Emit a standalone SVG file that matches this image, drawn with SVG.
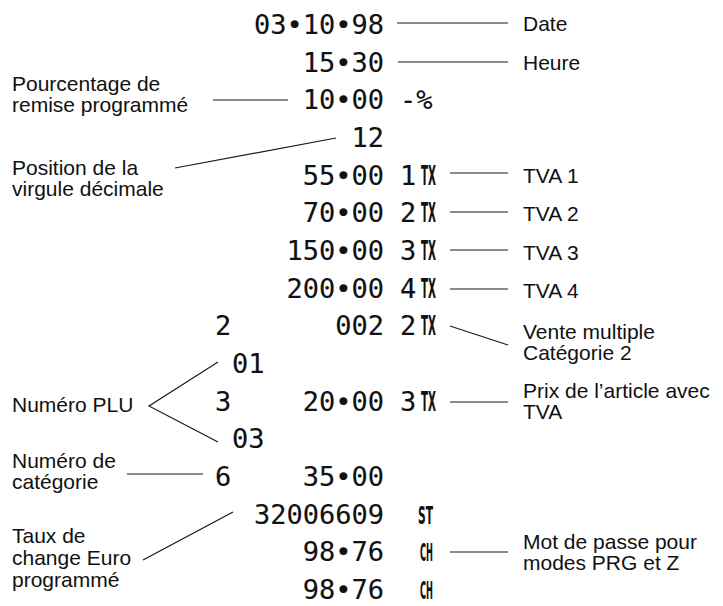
<svg xmlns="http://www.w3.org/2000/svg" width="723" height="606" viewBox="0 0 723 606">
<style>
.r{font-family:"DejaVu Sans Mono","Liberation Mono",monospace;font-size:27px;fill:#111;stroke:#111;stroke-width:0.15}
.e{text-anchor:end}
.tx{font-family:"DejaVu Sans Condensed","DejaVu Sans",sans-serif;font-weight:bold;font-size:27px;fill:#111}
.sm{font-family:"DejaVu Sans Condensed","DejaVu Sans",sans-serif;font-weight:bold;font-size:24px;fill:#111}
.l{font-family:"Liberation Sans",Arial,sans-serif;font-size:21px;fill:#111}
.c line,.c polyline{stroke:#1a1a1a;stroke-width:1.2;fill:none}
</style>
<rect width="723" height="606" fill="#fff"/>
<g id="row-date"><text class="r e" x="384" y="34">03•10•98</text></g>
<g id="row-heure"><text class="r e" x="384" y="71.7">15•30</text></g>
<g id="row-remise"><text class="r e" x="384" y="109.3">10•00</text><text class="r" x="400" y="109.3">-%</text></g>
<g id="row-virgule"><text class="r e" x="384" y="147">12</text></g>
<g id="row-tva1"><text class="r" x="400" y="184.7">1</text><text class="r e" x="384" y="184.7">55•00</text><text class="tx" x="421" y="184.7" textLength="15" lengthAdjust="spacingAndGlyphs">TX</text></g>
<g id="row-tva2"><text class="r e" x="384" y="222.3">70•00</text><text class="r" x="400" y="222.3">2</text><text class="tx" x="421" y="222.3" textLength="15" lengthAdjust="spacingAndGlyphs">TX</text></g>
<g id="row-tva3"><text class="r e" x="384" y="260">150•00</text><text class="r" x="400" y="260">3</text><text class="tx" x="421" y="260" textLength="15" lengthAdjust="spacingAndGlyphs">TX</text></g>
<g id="row-tva4"><text class="r e" x="384" y="297.7">200•00</text><text class="r" x="400" y="297.7">4</text><text class="tx" x="421" y="297.7" textLength="15" lengthAdjust="spacingAndGlyphs">TX</text></g>
<g id="row-multiple"><text class="r" x="215" y="335.3">2</text><text class="r e" x="384" y="335.3">002</text><text class="r" x="400" y="335.3">2</text><text class="tx" x="421" y="335.3" textLength="15" lengthAdjust="spacingAndGlyphs">TX</text></g>
<g id="row-plu1"><text class="r" x="232" y="373">01</text></g>
<g id="row-prix"><text class="r" x="215" y="410.7">3</text><text class="r e" x="384" y="410.7">20•00</text><text class="r" x="400" y="410.7">3</text><text class="tx" x="421" y="410.7" textLength="15" lengthAdjust="spacingAndGlyphs">TX</text></g>
<g id="row-plu3"><text class="r" x="232" y="448.3">03</text></g>
<g id="row-categorie"><text class="r" x="215" y="486">6</text><text class="r e" x="384" y="486">35•00</text></g>
<g id="row-taux"><text class="r e" x="384" y="523.7">32006609</text><text class="sm" x="418" y="523.7" textLength="15" lengthAdjust="spacingAndGlyphs">ST</text></g>
<g id="row-pass1"><text class="r e" x="384" y="561.3">98•76</text><text class="sm" x="420" y="561.3" textLength="13" lengthAdjust="spacingAndGlyphs">CH</text></g>
<g id="row-pass2"><text class="r e" x="384" y="599">98•76</text><text class="sm" x="420" y="599" textLength="13" lengthAdjust="spacingAndGlyphs">CH</text></g>

<g id="label-date"><text class="l" x="523" y="31">Date</text></g>
<g id="label-heure"><text class="l" x="523" y="70">Heure</text></g>
<g id="label-tva1"><text class="l" x="523" y="183">TVA 1</text></g>
<g id="label-tva2"><text class="l" x="523" y="221">TVA 2</text></g>
<g id="label-tva3"><text class="l" x="523" y="260">TVA 3</text></g>
<g id="label-tva4"><text class="l" x="523" y="298">TVA 4</text></g>
<g id="label-vente"><text class="l" x="523" y="339">Vente multiple</text><text class="l" x="523" y="360">Catégorie 2</text></g>
<g id="label-prix"><text class="l" x="523" y="398">Prix de l’article avec</text><text class="l" x="523" y="419">TVA</text></g>
<g id="label-motdepasse"><text class="l" x="523" y="549">Mot de passe pour</text><text class="l" x="523" y="570">modes PRG et Z</text></g>
<g id="label-remise"><text class="l" x="12" y="91">Pourcentage de</text><text class="l" x="12" y="112">remise programmé</text></g>
<g id="label-virgule"><text class="l" x="12" y="175">Position de la</text><text class="l" x="12" y="196">virgule décimale</text></g>
<g id="label-plu"><text class="l" x="12" y="412">Numéro PLU</text></g>
<g id="label-categorie"><text class="l" x="12" y="468">Numéro de</text><text class="l" x="12" y="489">catégorie</text></g>
<g id="label-taux"><text class="l" x="12" y="543">Taux de</text><text class="l" x="12" y="565">change Euro</text><text class="l" x="12" y="587">programmé</text></g>

<g id="connectors" class="c">
<line x1="397" y1="23" x2="508" y2="23"/>
<line x1="398" y1="62" x2="508" y2="62"/>
<line x1="213" y1="100" x2="288" y2="100"/>
<line x1="175" y1="168" x2="336" y2="138"/>
<line x1="450" y1="173" x2="508" y2="173"/>
<line x1="450" y1="212" x2="508" y2="212"/>
<line x1="450" y1="250" x2="508" y2="250"/>
<line x1="450" y1="289" x2="508" y2="289"/>
<line x1="450" y1="326" x2="508" y2="345"/>
<line x1="450" y1="402" x2="508" y2="402"/>
<polyline points="218,362 149,406 218,442"/>
<line x1="127" y1="474" x2="203" y2="474"/>
<line x1="143" y1="560" x2="233" y2="512"/>
<line x1="450" y1="552" x2="508" y2="552"/>
</g>
</svg>
